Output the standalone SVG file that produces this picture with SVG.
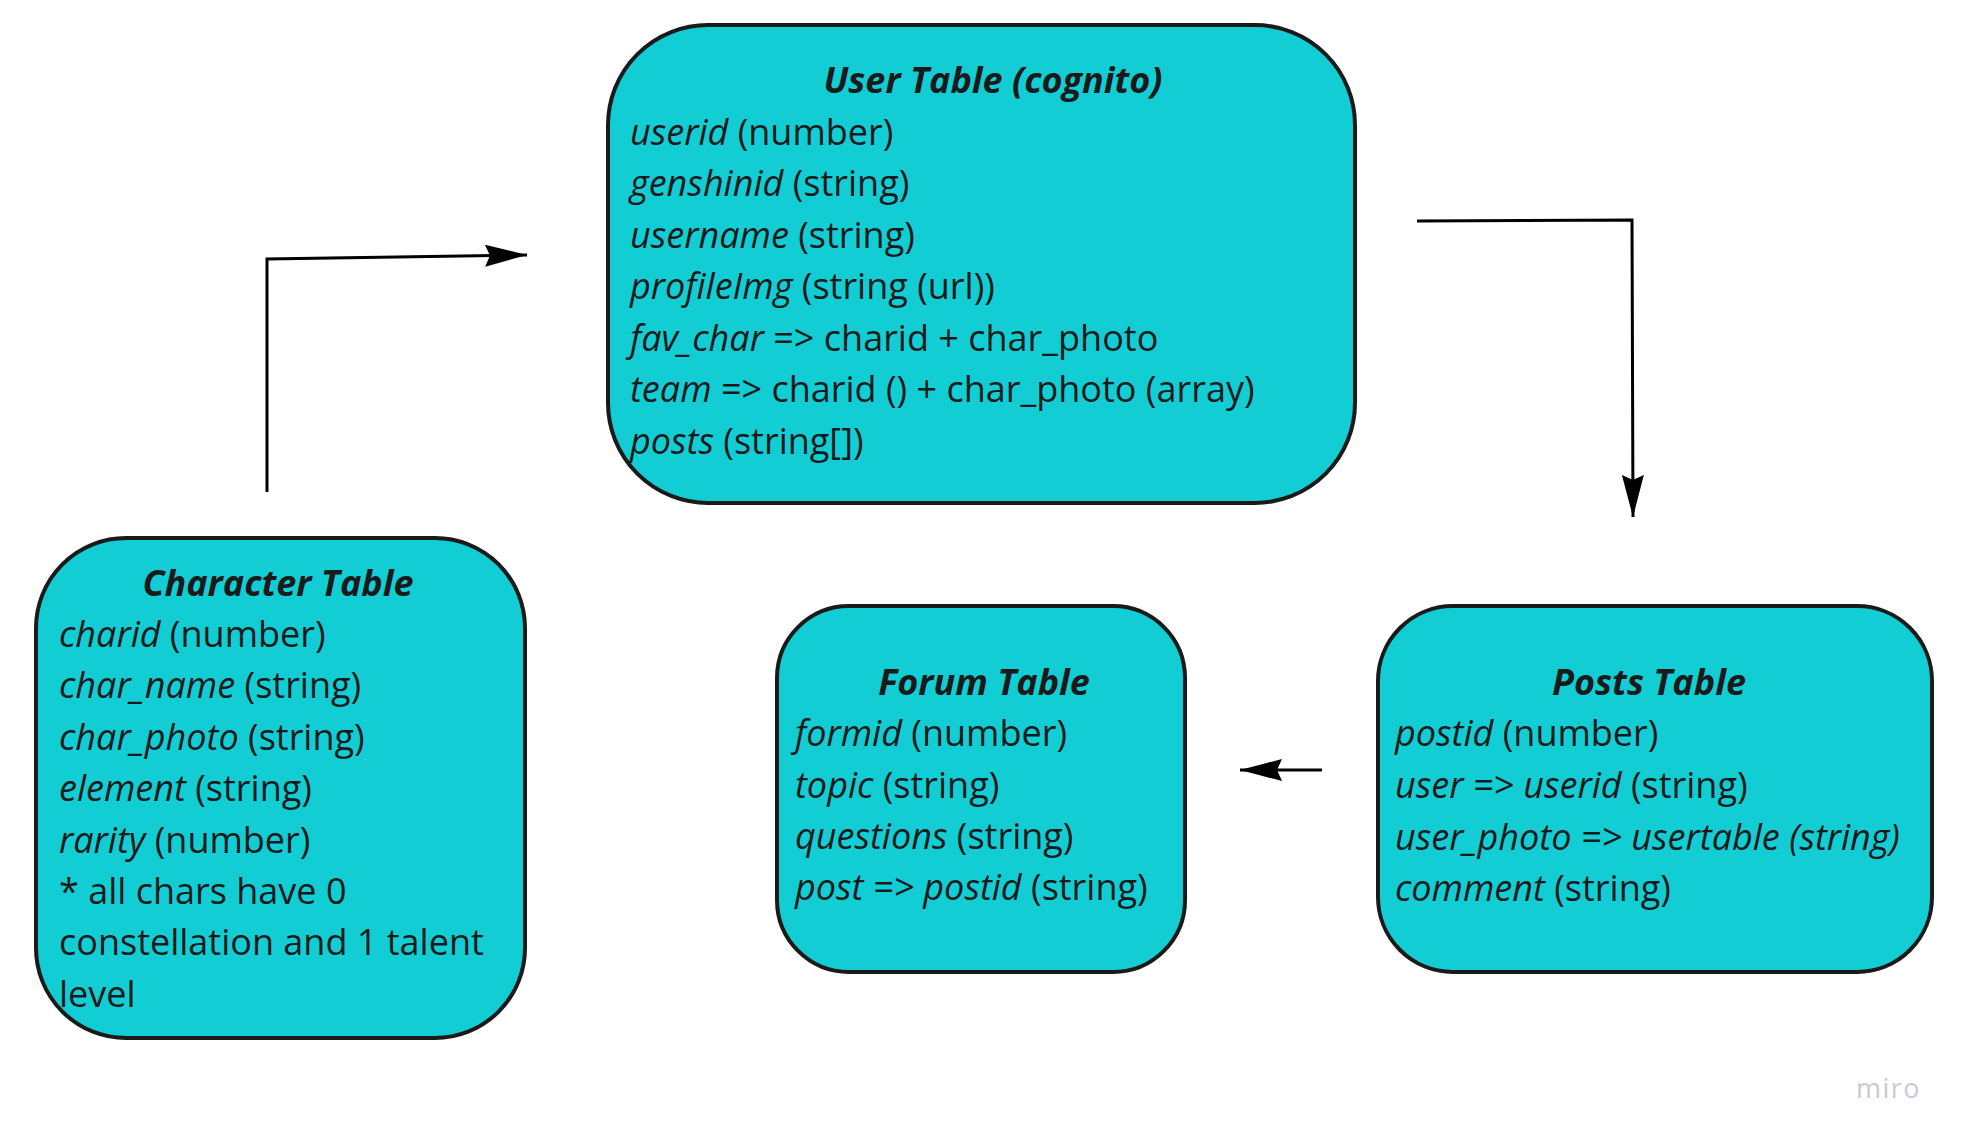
<svg xmlns="http://www.w3.org/2000/svg" width="1962" height="1146" viewBox="0 0 1962 1146">
<defs>
<style>
.box{fill:#13CDD4;stroke:#1a1a1a;stroke-width:4}
text{font-family:"Open Sans","Noto Sans","DejaVu Sans",sans-serif;font-size:36px;fill:#1a1a1a}
.t{font-weight:bold;font-style:italic;text-anchor:middle}
.i{font-style:italic}
.edge{fill:none;stroke:#000;stroke-width:3}
.wm{font-size:27px;fill:#c9c9d6;letter-spacing:1.5px}
</style>
<marker id="arr" viewBox="0 0 42 22" refX="42" refY="11" markerWidth="42" markerHeight="22" markerUnits="userSpaceOnUse" orient="auto">
<path d="M0,0 L42,11 L0,22 L5,11 Z" fill="#000"/>
</marker>
</defs>
<rect width="1962" height="1146" fill="#fff"/>
<g id="connectors">
<path class="edge" d="M267,492 L267,259 L527,255" marker-end="url(#arr)"/>
<path class="edge" d="M1417,221 L1632,220 L1633,517" marker-end="url(#arr)"/>
<path class="edge" d="M1322,770 L1240,770" marker-end="url(#arr)"/>
</g>
<g id="user-table">
<rect class="box" x="608" y="25" width="747" height="478" rx="100" ry="100"/>
<text class="t" x="993" y="93">User Table (cognito)</text>
<text x="630" y="145"><tspan class="i">userid</tspan> (number)</text>
<text x="630" y="196"><tspan class="i">genshinid</tspan> (string)</text>
<text x="630" y="248"><tspan class="i">username</tspan> (string)</text>
<text x="630" y="299"><tspan class="i">profileImg</tspan> (string (url))</text>
<text x="630" y="351"><tspan class="i">fav_char</tspan> =&gt; charid + char_photo</text>
<text x="630" y="402"><tspan class="i">team</tspan> =&gt; charid () + char_photo (array)</text>
<text x="630" y="454"><tspan class="i">posts</tspan> (string[])</text>
</g>
<g id="character-table">
<rect class="box" x="36" y="538" width="489" height="500" rx="90" ry="90"/>
<text class="t" x="278" y="596">Character Table</text>
<text x="59" y="647"><tspan class="i">charid</tspan> (number)</text>
<text x="59" y="698"><tspan class="i">char_name</tspan> (string)</text>
<text x="59" y="750"><tspan class="i">char_photo</tspan> (string)</text>
<text x="59" y="801"><tspan class="i">element</tspan> (string)</text>
<text x="59" y="853"><tspan class="i">rarity</tspan> (number)</text>
<text x="59" y="904">* all chars have 0</text>
<text x="59" y="955">constellation and 1 talent</text>
<text x="59" y="1007">level</text>
</g>
<g id="forum-table">
<rect class="box" x="777" y="606" width="408" height="366" rx="72" ry="72"/>
<text class="t" x="984" y="695">Forum Table</text>
<text x="795" y="746"><tspan class="i">formid</tspan> (number)</text>
<text x="795" y="798"><tspan class="i">topic</tspan> (string)</text>
<text x="795" y="849"><tspan class="i">questions</tspan> (string)</text>
<text x="795" y="900"><tspan class="i">post =&gt; postid</tspan> (string)</text>
</g>
<g id="posts-table">
<rect class="box" x="1378" y="606" width="554" height="366" rx="75" ry="75"/>
<text class="t" x="1649" y="695">Posts Table</text>
<text x="1395" y="746"><tspan class="i">postid</tspan> (number)</text>
<text x="1395" y="798"><tspan class="i">user =&gt; userid</tspan> (string)</text>
<text x="1395" y="850"><tspan class="i">user_photo =&gt; usertable (string)</tspan></text>
<text x="1395" y="901"><tspan class="i">comment</tspan> (string)</text>
</g>
<text class="wm" x="1856" y="1098">miro</text>
</svg>
